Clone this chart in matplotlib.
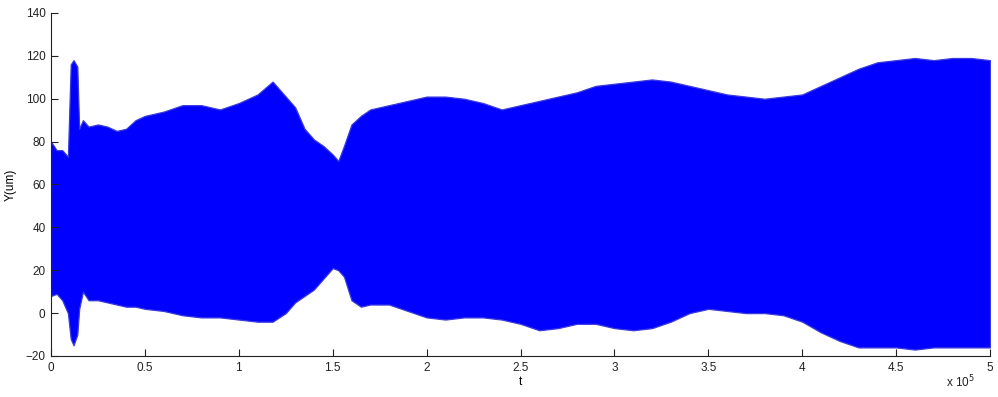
import matplotlib
matplotlib.use("Agg")
import matplotlib.pyplot as plt
import numpy as np

# Envelope of the dense oscillating signal (t in samples)
t_env = [0, 3000, 6000, 9000, 10500, 12000, 14000, 15000, 17000, 20000, 25000, 30000,
         35000, 40000, 45000, 50000, 60000, 70000, 80000, 90000, 100000, 110000,
         118000, 125000, 130000, 135000, 140000, 145000, 150000, 153000, 156000,
         160000, 165000, 170000, 180000, 190000, 200000, 210000, 220000, 230000,
         240000, 250000, 260000, 270000, 280000, 290000, 300000, 310000, 320000,
         330000, 340000, 350000, 360000, 370000, 380000, 390000, 400000, 410000,
         420000, 430000, 440000, 450000, 460000, 470000, 480000, 490000, 500000]
upper = [80, 76, 76, 73, 116, 118, 115, 86, 90, 87, 88, 87,
         85, 86, 90, 92, 94, 97, 97, 95, 98, 102,
         108, 101, 96, 86, 81, 78, 74, 71, 78,
         88, 92, 95, 97, 99, 101, 101, 100, 98,
         95, 97, 99, 101, 103, 106, 107, 108, 109,
         108, 106, 104, 102, 101, 100, 101, 102, 106,
         110, 114, 117, 118, 119, 118, 119, 119, 118]
lower = [8, 9, 6, 0, -12, -15, -10, 2, 10, 6, 6, 5,
         4, 3, 3, 2, 1, -1, -2, -2, -3, -4,
         -4, 0, 5, 8, 11, 16, 21, 20, 17,
         6, 3, 4, 4, 1, -2, -3, -2, -2,
         -3, -5, -8, -7, -5, -5, -7, -8, -7,
         -4, 0, 2, 1, 0, 0, -1, -4, -9,
         -13, -16, -16, -16, -17, -16, -16, -16, -16]

x_ticks = [0, 50000, 100000, 150000, 200000, 250000, 300000, 350000, 400000, 450000, 500000]
x_ticklabels = ["0", "0.5", "1", "1.5", "2", "2.5", "3", "3.5", "4", "4.5", "5"]
y_ticks = [-20, 0, 20, 40, 60, 80, 100, 120, 140]

plt.rcParams['font.family'] = ['Liberation Sans', 'DejaVu Sans']

fig = plt.figure(figsize=(9.98, 3.97), dpi=100)
ax = fig.add_axes([0.0511, 0.1033, 0.9409, 0.864])

ax.fill_between(t_env, lower, upper, color='#0000ff', linewidth=0.9,
                edgecolor='#3a3ae0')

ax.set_xlim(0, 500000)
ax.set_ylim(-20, 140)
ax.set_xticks(x_ticks)
ax.set_xticklabels(x_ticklabels)
ax.set_yticks(y_ticks)
ax.tick_params(direction='in', length=5, width=0.8, labelsize=8.5, colors='#222222',
               pad=4)
for s in ['top', 'right']:
    ax.spines[s].set_visible(False)
for s in ['left', 'bottom']:
    ax.spines[s].set_linewidth(0.8)
    ax.spines[s].set_color('#222222')

ax.set_xlabel('t', fontsize=8.5, labelpad=2)
ax.set_ylabel('Y(um)', fontsize=8.5, labelpad=6)
fig.text(0.948, 0.025, r'x 10$^5$', fontsize=8.5, color='#222222')

fig.savefig('out.png', dpi=100)
